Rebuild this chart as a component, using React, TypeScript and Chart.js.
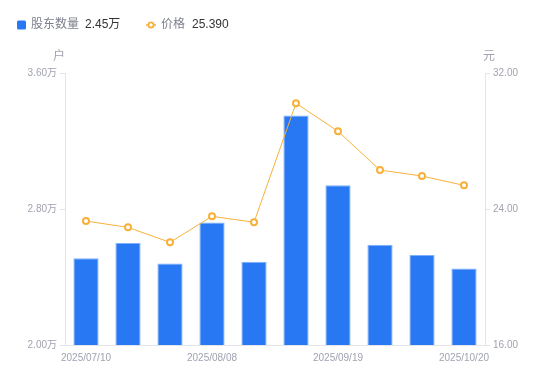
import React, { useEffect, useRef } from "react";
import { Chart, registerables } from "chart.js";

Chart.register(...registerables);

const dates = [
  "2025/07/10", "2025/07/18", "2025/07/31", "2025/08/08", "2025/08/20",
  "2025/08/29", "2025/09/19", "2025/09/30", "2025/10/10", "2025/10/20",
];
const holders = [2.51, 2.60, 2.48, 2.72, 2.49, 3.35, 2.94, 2.59, 2.53, 2.45];
const prices = [23.29, 22.92, 22.04, 23.57, 23.22, 30.22, 28.57, 26.29, 25.94, 25.39];
const leftTicks = [2.0, 2.8, 3.6];
const rightTicks = [16, 24, 32];
const shownDateIdx = [0, 3, 6, 9];

const BLUE = "#2878f4";
const ORANGE = "#f7b13a";
const TICK = "#a0a2b0";
const LINE = "#e3e5ea";
const FONT = "'Liberation Sans', 'Noto Sans CJK SC', sans-serif";

const overlay = {
  id: "overlay",
  afterDraw(chart: any) {
    const ctx = chart.ctx;
    ctx.save();
    ctx.textBaseline = "middle";
    ctx.font = `12px ${FONT}`;
    // legend 1
    ctx.fillStyle = BLUE;
    ctx.beginPath();
    if (ctx.roundRect) ctx.roundRect(17, 20.5, 9, 9, 1.5);
    else ctx.rect(17, 20.5, 9, 9);
    ctx.fill();
    ctx.fillStyle = "#7d808c";
    ctx.textAlign = "left";
    ctx.fillText("股东数量", 31, 25);
    ctx.fillStyle = "#333";
    ctx.fillText(holders[holders.length - 1].toFixed(2) + "万", 85, 25);
    // legend 2
    ctx.strokeStyle = ORANGE;
    ctx.lineWidth = 1.5;
    ctx.beginPath();
    ctx.moveTo(146, 25);
    ctx.lineTo(156, 25);
    ctx.stroke();
    ctx.beginPath();
    ctx.arc(151, 25, 2.6, 0, Math.PI * 2);
    ctx.fillStyle = "#fff";
    ctx.fill();
    ctx.lineWidth = 1.8;
    ctx.stroke();
    ctx.fillStyle = "#7d808c";
    ctx.fillText("价格", 161, 25);
    ctx.fillStyle = "#333";
    ctx.fillText(prices[prices.length - 1].toFixed(3), 192, 25);
    // units
    ctx.fillStyle = TICK;
    ctx.textAlign = "center";
    ctx.fillText("户", 59, 57);
    ctx.fillText("元", 489, 57);
    ctx.restore();
  },
};

export default function App() {
  const ref = useRef<HTMLCanvasElement>(null);
  useEffect(() => {
    if (!ref.current) return;
    const chart = new Chart(ref.current, {
      type: "bar",
      data: {
        labels: dates,
        datasets: [
          {
            type: "line",
            label: "价格",
            data: prices,
            yAxisID: "y1",
            borderColor: ORANGE,
            borderWidth: 1,
            pointRadius: 3,
            pointBorderWidth: 2,
            pointBackgroundColor: "#fff",
            pointBorderColor: ORANGE,
            tension: 0,
            order: 0,
          } as any,
          {
            type: "bar",
            label: "股东数量",
            data: holders,
            yAxisID: "y",
            backgroundColor: BLUE,
            borderColor: "#7fb0fb",
            borderWidth: { top: 1, left: 1, right: 1, bottom: 0 },
            barPercentage: 0.6,
            categoryPercentage: 1,
            order: 1,
          } as any,
        ],
      },
      options: {
        animation: false,
        responsive: true,
        maintainAspectRatio: false,
        layout: { padding: { top: 73, left: 0, right: 0, bottom: 0 } },
        plugins: { legend: { display: false }, tooltip: { enabled: false } },
        scales: {
          x: {
            grid: { display: true, drawOnChartArea: false, drawTicks: false, color: LINE },
            border: { color: LINE },
            ticks: {
              autoSkip: false,
              maxRotation: 0,
              padding: 7,
              color: TICK,
              font: { size: 10, family: FONT },
              callback: (_v: any, i: number) => (shownDateIdx.includes(i) ? dates[i] : ""),
            },
            afterFit: (s: any) => { s.height = 36; },
          },
          y: {
            position: "left",
            min: leftTicks[0],
            max: leftTicks[leftTicks.length - 1],
            afterBuildTicks: (s: any) => { s.ticks = leftTicks.map((v) => ({ value: v })); },
            grid: { drawOnChartArea: false, drawTicks: true, tickLength: 5, color: LINE },
            border: { color: LINE },
            ticks: {
              color: TICK,
              padding: 3,
              font: { size: 10, family: FONT },
              callback: (v: any) => Number(v).toFixed(2) + "万",
            },
            afterFit: (s: any) => { s.width = 65; },
          },
          y1: {
            position: "right",
            min: rightTicks[0],
            max: rightTicks[rightTicks.length - 1],
            afterBuildTicks: (s: any) => { s.ticks = rightTicks.map((v) => ({ value: v })); },
            grid: { drawOnChartArea: false, drawTicks: true, tickLength: 5, color: LINE },
            border: { color: LINE },
            ticks: {
              color: TICK,
              padding: 3,
              font: { size: 10, family: FONT },
              callback: (v: any) => Number(v).toFixed(2),
            },
            afterFit: (s: any) => { s.width = 65; },
          },
        },
      },
      plugins: [overlay],
    });
    return () => chart.destroy();
  }, []);
  return (
    <div style={{ position: "absolute", left: 0, top: 0, width: 550, height: 381, background: "#fff" }}>
      <canvas ref={ref} />
    </div>
  );
}
